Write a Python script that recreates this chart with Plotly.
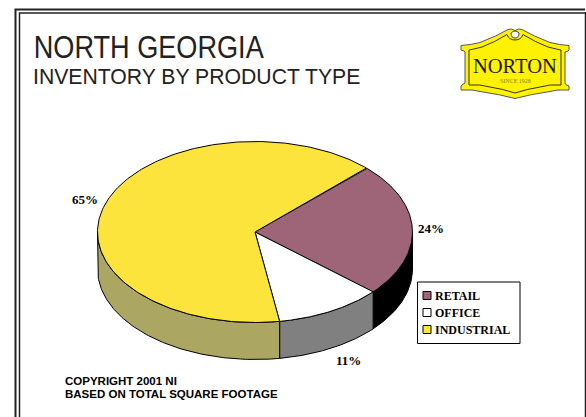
import numpy as np
import plotly.graph_objects as go

# Share of total square footage by product type
categories = ["RETAIL", "OFFICE", "INDUSTRIAL"]
shares = [24, 11, 65]
top_colors = ["#9E6477", "#FFFFFF", "#FCE43C"]
side_colors = ["#000000", "#808080", "#ACA663"]

title_main = "NORTH GEORGIA"
title_sub = "INVENTORY BY PRODUCT TYPE"
footnotes = ["COPYRIGHT 2001 NI", "BASED ON TOTAL SQUARE FOOTAGE"]

W, H = 586, 417
CX, CY, RX, RY = 255, 232, 157.5, 90.5
DEPTH = 37
START_DEG = 45
SERIF = "Liberation Serif"
SANS = "Liberation Sans"


def rim(a, b, n=120):
    t = np.radians(np.linspace(a, b, n))
    return CX + RX * np.sin(t), CY - RY * np.cos(t)


fig = go.Figure()

edges = START_DEG + np.concatenate([[0], np.cumsum(shares)]) * 3.6

# Outer wall of the disc: only the part facing the viewer (90..270 degrees)
for i, name in enumerate(categories):
    a, b = max(edges[i], 90), min(edges[i + 1], 270)
    if a >= b:
        continue
    x, y = rim(a, b)
    fig.add_trace(go.Scatter(
        x=np.concatenate([x, x[::-1], x[:1]]),
        y=np.concatenate([y, y[::-1] + DEPTH, y[:1]]),
        mode="lines", fill="toself", fillcolor=side_colors[i],
        line=dict(color="#000000", width=1), hoverinfo="skip", showlegend=False,
    ))

# Top face wedges
for i, name in enumerate(categories):
    x, y = rim(edges[i], edges[i + 1], 240)
    fig.add_trace(go.Scatter(
        x=np.concatenate([[CX], x, [CX]]),
        y=np.concatenate([[CY], y, [CY]]),
        mode="lines", fill="toself", fillcolor=top_colors[i],
        line=dict(color="#000000", width=1), name=name, showlegend=False,
        hovertemplate=f"{name}: {shares[i]}%<extra></extra>",
    ))

# Legend swatches
legend_y = [295.5, 312.5, 329.5]
fig.add_trace(go.Scatter(
    x=[427, 427, 427], y=legend_y, mode="markers", hoverinfo="skip", showlegend=False,
    marker=dict(symbol="square", size=8, color=top_colors,
                line=dict(color="#000000", width=1)),
))


def note(x, y, text, size, family=SANS, bold=False, anchor="left", color="#000000"):
    fig.add_annotation(
        x=x, y=y, text=f"<b>{text}</b>" if bold else text, showarrow=False,
        xanchor=anchor, yanchor="middle", borderpad=0,
        font=dict(size=size, family=family, color=color),
    )


note(149, 47, title_main, 32, anchor="center", color="#222222")
note(32, 76.5, title_sub, 21.2, color="#222222")
note(64, 380.5, footnotes[0], 11.5, bold=True)
note(64, 393.5, footnotes[1], 11.5, bold=True)

note(84.5, 199.5, f"{shares[2]}%", 13, SERIF, True, "center")
note(431, 228, f"{shares[0]}%", 13, SERIF, True, "center")
note(348, 360.5, f"{shares[1]}%", 13, SERIF, True, "center")

for name, yy in zip(categories, legend_y):
    note(434, yy, name, 12, SERIF, True)

# Double page frame, open at the bottom edge
shapes = [
    dict(type="path", path=f"M15.5,{H} L15.5,9.5 L585,9.5", line=dict(color="#222222", width=2)),
    dict(type="path", path=f"M19.5,{H} L19.5,13 L585,13", line=dict(color="#222222", width=1.5)),
    dict(type="line", x0=585.5, x1=585.5, y0=12, y1=H, line=dict(color="#222222", width=1.5)),
    # Legend box
    dict(type="rect", x0=417.5, x1=520, y0=282, y1=343.5,
         line=dict(color="#000000", width=1), fillcolor="#FFFFFF", layer="below"),
]

# Norton badge
badge = ("M515,30.5 Q511,28 508,29.5 Q497,36 480,42.5 Q470,45 461,45.5 L461,50 Q465,51 465,52 "
         "L465,83 Q461,85 461,86 L461,90 Q472,89 483,92 Q498,94 515,98.5 Q532,94 547,92 "
         "Q558,89 569,90 L569,86 Q565,85 565,83 L565,52 Q569,51 569,50 L569,45.5 "
         "Q560,45 550,42.5 Q533,36 522,29.5 Q519,28 515,30.5 Z")
shapes.append(dict(type="path", path=badge, fillcolor="#FFF200",
                   line=dict(color="#555555", width=1)))
badge_inner = ("M515,40 Q509,40 507,34.5 Q495,42 482,47 Q472,49.5 469,50 L469,85 Q480,84 "
               "490,87 Q503,89 515,93 Q527,89 540,87 Q550,84 561,85 L561,50 Q558,49.5 548,47 "
               "Q535,42 523,34.5 Q521,40 515,40 Z")
shapes.append(dict(type="path", path=badge_inner, line=dict(color="#333300", width=1)))
# Curl at the top of the badge
shapes.append(dict(type="path", path="M511,33 Q515,29 519,33 Q519,38 515,38 Q511,38 511,33 Z",
                   fillcolor="#FFFFFF", line=dict(color="#444444", width=1)))

note(515, 66, "NORTON", 20.5, SERIF, False, "center", "#1A1A00")
note(515, 80.5, "SINCE 1928", 6, SERIF, False, "center", "#8A8420")

fig.update_layout(
    width=W, height=H, margin=dict(l=0, r=0, t=0, b=0),
    paper_bgcolor="#FFFFFF", plot_bgcolor="#FFFFFF",
    showlegend=False, shapes=shapes,
    xaxis=dict(range=[0, W], visible=False, fixedrange=True),
    yaxis=dict(range=[H, 0], visible=False, fixedrange=True),
)

# The heading is set in a condensed cut: narrow it to 230px without changing its height
condense = """
var gd = document.querySelector('.js-plotly-plot');
gd.querySelectorAll('text.annotation-text').forEach(function (t) {
  if (t.textContent === '%s') {
    t.setAttribute('textLength', '230');
    t.setAttribute('lengthAdjust', 'spacingAndGlyphs');
  }
});
""" % title_main

fig.write_html("out.html", config=dict(displayModeBar=False), post_script=condense)
